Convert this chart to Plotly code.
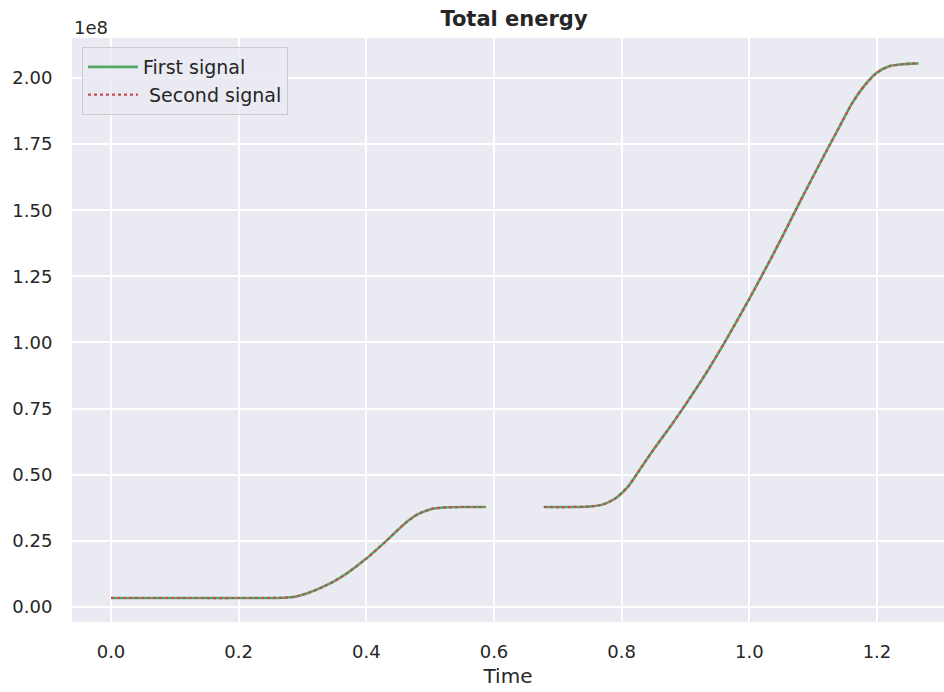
import plotly.graph_objects as go

# Data (energy in units of 1e8)
time_seg1 = [0.00, 0.10, 0.20, 0.27, 0.29, 0.31, 0.33, 0.35, 0.37, 0.40, 0.43, 0.46, 0.48, 0.50, 0.52, 0.55, 0.587]
energy_seg1 = [0.034, 0.034, 0.034, 0.035, 0.040, 0.054, 0.074, 0.098, 0.128, 0.183, 0.247, 0.315, 0.350, 0.369, 0.376, 0.378, 0.378]
time_seg2 = [0.678, 0.72, 0.75, 0.77, 0.79, 0.81, 0.83, 0.85, 0.88, 0.90, 0.93, 0.96, 1.00, 1.04, 1.08, 1.12, 1.14, 1.16, 1.18, 1.20, 1.22, 1.24, 1.265]
energy_seg2 = [0.378, 0.378, 0.380, 0.387, 0.410, 0.455, 0.525, 0.595, 0.695, 0.765, 0.875, 0.995, 1.165, 1.345, 1.535, 1.72, 1.81, 1.90, 1.97, 2.02, 2.045, 2.052, 2.055]

x_ticks = [0.0, 0.2, 0.4, 0.6, 0.8, 1.0, 1.2]
x_tick_labels = ["0.0", "0.2", "0.4", "0.6", "0.8", "1.0", "1.2"]
y_ticks = [0.0, 0.25, 0.5, 0.75, 1.0, 1.25, 1.5, 1.75, 2.0]
y_tick_labels = ["0.00", "0.25", "0.50", "0.75", "1.00", "1.25", "1.50", "1.75", "2.00"]

time = time_seg1 + [None] + time_seg2
energy = energy_seg1 + [None] + energy_seg2

FONT = "DejaVu Sans"
TXT = "#262626"

fig = go.Figure()
fig.add_trace(go.Scatter(x=time, y=energy, mode="lines", name="First signal",
                         line=dict(color="#55A868", width=2.6, shape="spline", smoothing=0.6),
                         connectgaps=False))
fig.add_trace(go.Scatter(x=time, y=energy, mode="lines", name=" Second signal",
                         line=dict(color="#C44E52", width=2.2, dash="dot", shape="spline", smoothing=0.6),
                         connectgaps=False))

W, H = 944, 692
L, R, T, B = 72, 0, 38, 70
pw, ph = W - L - R, H - T - B

fig.update_layout(
    width=W, height=H,
    margin=dict(l=L, r=R, t=T, b=B, pad=0),
    paper_bgcolor="white",
    plot_bgcolor="#EAEAF2",
    font=dict(family=FONT, size=18, color=TXT),
    title=dict(text="<b>Total energy</b>", x=514 / W, xanchor="center",
               y=1 - 19 / H, yanchor="middle", yref="container",
               font=dict(family=FONT, size=21, color=TXT)),
    showlegend=True,
    legend=dict(x=10 / pw, y=1 - 9 / ph, xanchor="left", yanchor="top",
                bgcolor="rgba(234,234,242,0.85)", bordercolor="#CCCCCC", borderwidth=1,
                itemwidth=50,
                font=dict(family=FONT, size=19, color=TXT), tracegroupgap=0),
    xaxis=dict(range=[-0.0611, 1.305], tickvals=x_ticks, ticktext=x_tick_labels,
               showgrid=True, gridcolor="white", gridwidth=1.5, zeroline=False,
               showline=False, ticks="outside", ticklen=13, tickcolor="rgba(0,0,0,0)",
               tickfont=dict(size=18, color=TXT),
               title=dict(text="Time", font=dict(size=20, color=TXT), standoff=8)),
    yaxis=dict(range=[-0.0567, 2.151], tickvals=y_ticks, ticktext=y_tick_labels,
               showgrid=True, gridcolor="white", gridwidth=1.5, zeroline=False,
               showline=False, ticks="outside", ticklen=15, tickcolor="rgba(0,0,0,0)",
               tickfont=dict(size=18, color=TXT)),
    annotations=[dict(text="1e8", xref="paper", yref="paper", x=0, y=1, xanchor="left",
                      yanchor="bottom", yshift=-2, showarrow=False,
                      font=dict(family=FONT, size=18, color=TXT))],
)

fig.write_html("out.html")
